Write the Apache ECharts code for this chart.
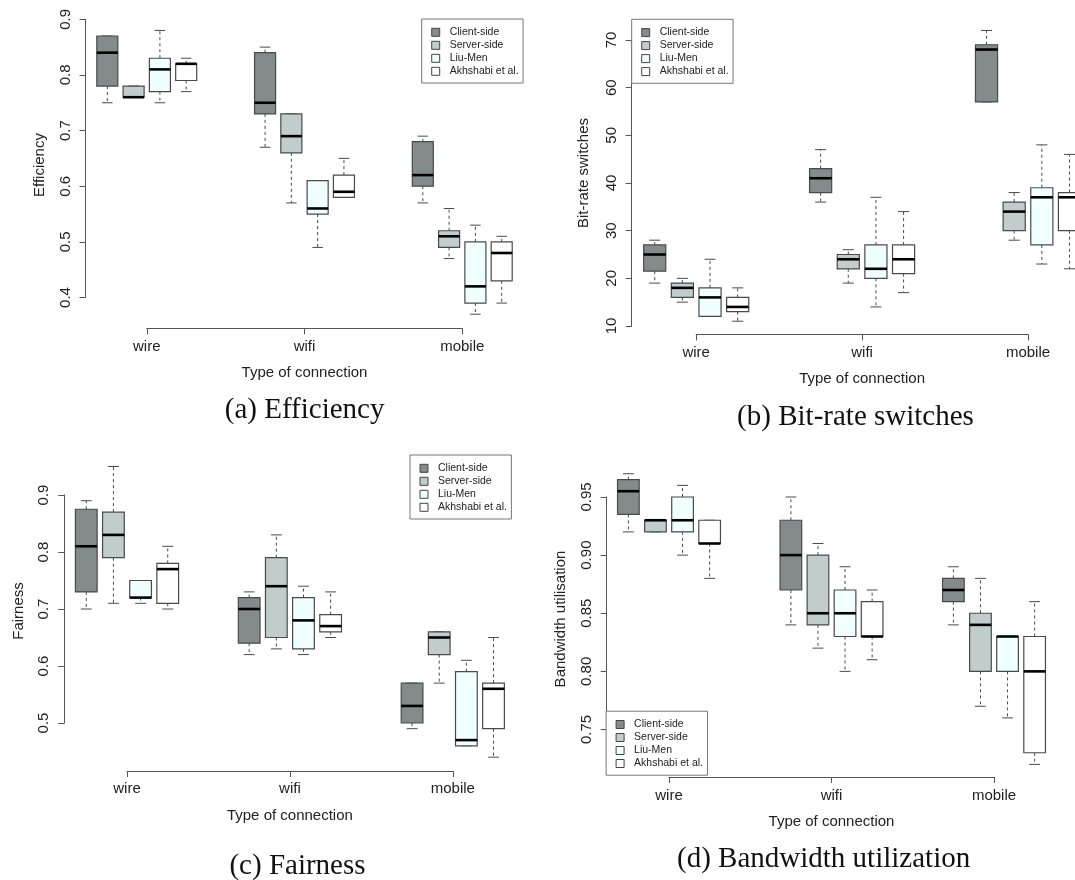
<!DOCTYPE html>
<html><head><meta charset="utf-8">
<script src="https://cdn.jsdelivr.net/npm/echarts@6/dist/echarts.min.js"></script>
<style>html,body{margin:0;padding:0;background:#fff}#c{width:1075px;height:880px}</style>
</head><body><div id="c"></div>
<script>
// ---------- data ----------
const categories = ['wire', 'wifi', 'mobile'];
const methods = ['Client-side', 'Server-side', 'Liu-Men', 'Akhshabi et al.'];
// five-number summaries [min, Q1, median, Q3, max] for wire, wifi, mobile
const effClient   = [[0.75,0.78,0.84,0.87,0.87],[0.67,0.73,0.75,0.84,0.85],[0.57,0.60,0.62,0.68,0.69]];
const effServer   = [[0.76,0.76,0.76,0.78,0.78],[0.57,0.66,0.69,0.73,0.73],[0.47,0.49,0.51,0.52,0.56]];
const effLiuMen   = [[0.75,0.77,0.81,0.83,0.88],[0.49,0.55,0.56,0.61,0.61],[0.37,0.39,0.42,0.50,0.53]];
const effAkhshabi = [[0.77,0.79,0.82,0.82,0.83],[0.58,0.58,0.59,0.62,0.65],[0.39,0.43,0.48,0.50,0.51]];

const brsClient   = [[19,21.5,25,27,28],[36,38,41,43,47],[57,57,68,69,72]];
const brsServer   = [[15,16,18,19,20],[19,22,24,25,26],[28,30,34,36,38]];
const brsLiuMen   = [[12,12,16,18,24],[14,20,22,27,37],[23,27,37,39,48]];
const brsAkhshabi = [[11,13,14,16,18],[17,21,24,27,34],[22,30,37,38,46]];

const fairClient   = [[0.70,0.73,0.81,0.875,0.89],[0.62,0.64,0.70,0.72,0.73],[0.49,0.50,0.53,0.57,0.57]];
const fairServer   = [[0.71,0.79,0.83,0.87,0.95],[0.63,0.65,0.74,0.79,0.83],[0.57,0.62,0.65,0.66,0.66]];
const fairLiuMen   = [[0.71,0.72,0.72,0.75,0.75],[0.62,0.63,0.68,0.72,0.74],[0.46,0.46,0.47,0.59,0.61]];
const fairAkhshabi = [[0.70,0.71,0.77,0.78,0.81],[0.65,0.66,0.67,0.69,0.73],[0.44,0.49,0.56,0.57,0.65]];

const bwClient   = [[0.92,0.935,0.955,0.965,0.97],[0.84,0.87,0.90,0.93,0.95],[0.84,0.86,0.87,0.88,0.89]];
const bwServer   = [[0.92,0.92,0.93,0.93,0.93],[0.82,0.84,0.85,0.90,0.91],[0.77,0.80,0.84,0.85,0.88]];
const bwLiuMen   = [[0.90,0.92,0.93,0.95,0.96],[0.80,0.83,0.85,0.87,0.89],[0.76,0.80,0.83,0.83,0.83]];
const bwAkhshabi = [[0.88,0.91,0.91,0.93,0.93],[0.81,0.83,0.83,0.86,0.87],[0.72,0.73,0.80,0.83,0.86]];

const effTicks  = [0.4, 0.5, 0.6, 0.7, 0.8, 0.9];
const brsTicks  = [10, 20, 30, 40, 50, 60, 70];
const fairTicks = [0.5, 0.6, 0.7, 0.8, 0.9];
const bwTicks   = [0.75, 0.80, 0.85, 0.90, 0.95];

// ---------- layout / style ----------
const FONT = '"Liberation Sans", Arial, Helvetica, sans-serif';
const SERIF = '"Liberation Serif", "Times New Roman", serif';
const fills = ['#838B8B', '#C1CDCD', '#F0FFFF', '#FFFFFF'];
const axisColor = '#555';
const textColor = '#222';

const panels = [
  {data:[effClient,effServer,effLiuMen,effAkhshabi], ticks:effTicks, dec:1, yTitle:'Efficiency', caption:'(a) Efficiency',
   axisX:85.6, x0:146.75, x1:462.25, yTop:19.3, yBot:297.5, lineY:328.3, labelY:346.6, nameY:372.4,
   capX:304.6, capY:410, ytX:40, ytY:165, lgL:421.7, lgT:19},
  {data:[brsClient,brsServer,brsLiuMen,brsAkhshabi], ticks:brsTicks, dec:0, yTitle:'Bit-rate switches', caption:'(b) Bit-rate switches',
   axisX:631.7, x0:696.2, x1:1028, yTop:40, yBot:326, lineY:334.4, labelY:352.6, nameY:379,
   capX:855.5, capY:417, ytX:584, ytY:173, lgL:631.7, lgT:19.3},
  {data:[fairClient,fairServer,fairLiuMen,fairAkhshabi], ticks:fairTicks, dec:1, yTitle:'Fairness', caption:'(c) Fairness',
   axisX:64.3, x0:127, x1:452.8, yTop:495, yBot:723, lineY:771, labelY:789.3, nameY:815.9,
   capX:297.5, capY:866, ytX:18.5, ytY:611, lgL:410, lgT:455},
  {data:[bwClient,bwServer,bwLiuMen,bwAkhshabi], ticks:bwTicks, dec:2, yTitle:'Bandwidth utilisation', caption:'(d) Bandwidth utilization',
   axisX:606.7, x0:669, x1:994, yTop:497, yBot:729.5, lineY:777, labelY:795.8, nameY:822,
   capX:823.6, capY:859, ytX:561, ytY:619, lgL:606.1, lgT:711.2}
];

const grid = [], xAxis = [], yAxis = [], series = [], legend = [], graphic = [];

function renderBox(fill) {
  return function (params, api) {
    const x = api.value(0);
    const slot = api.size([1, 0])[0];
    const w = slot * 0.8;
    const pMin = api.coord([x, api.value(1)]);
    const pQ1 = api.coord([x, api.value(2)]);
    const pMed = api.coord([x, api.value(3)]);
    const pQ3 = api.coord([x, api.value(4)]);
    const pMax = api.coord([x, api.value(5)]);
    const cx = pMed[0];
    const wl = {stroke: '#4a4a4a', lineWidth: 1, lineDash: [3, 3]};
    const cl = {stroke: '#4a4a4a', lineWidth: 1};
    return {
      type: 'group',
      children: [
        {type: 'line', shape: {x1: cx, y1: pQ3[1], x2: cx, y2: pMax[1]}, style: wl},
        {type: 'line', shape: {x1: cx, y1: pQ1[1], x2: cx, y2: pMin[1]}, style: wl},
        {type: 'line', shape: {x1: cx - w / 4, y1: pMax[1], x2: cx + w / 4, y2: pMax[1]}, style: cl},
        {type: 'line', shape: {x1: cx - w / 4, y1: pMin[1], x2: cx + w / 4, y2: pMin[1]}, style: cl},
        {type: 'rect', shape: {x: cx - w / 2, y: pQ3[1], width: w, height: pQ1[1] - pQ3[1]},
         style: {fill: fill, stroke: '#4a4a4a', lineWidth: 1.2}},
        {type: 'line', shape: {x1: cx - w / 2, y1: pMed[1], x2: cx + w / 2, y2: pMed[1]},
         style: {stroke: '#000', lineWidth: 2.6}}
      ]
    };
  };
}

panels.forEach((p, i) => {
  const t = p.ticks;
  const interval = Math.round((t[1] - t[0]) * 1000) / 1000;
  grid.push({left: p.x0, top: p.yTop, width: p.x1 - p.x0, height: p.yBot - p.yTop,
             containLabel: false, outerBoundsMode: 'none'});
  xAxis.push({
    gridIndex: i, type: 'value', min: 0, max: 12, interval: 6, position: 'bottom',
    offset: p.lineY - p.yBot,
    axisLine: {show: true, onZero: false, lineStyle: {color: axisColor, width: 1}},
    axisTick: {show: true, length: 6, inside: false, lineStyle: {color: axisColor, width: 1}},
    axisLabel: {show: true, fontSize: 15, fontFamily: FONT, color: textColor,
                margin: p.labelY - p.lineY - 7.5,
                formatter: v => categories[Math.round(v / 6)]},
    splitLine: {show: false},
    name: 'Type of connection', nameLocation: 'middle', nameGap: p.nameY - p.lineY - 7.5,
    nameTextStyle: {fontSize: 15, fontFamily: FONT, color: textColor}
  });
  yAxis.push({
    gridIndex: i, type: 'value', min: t[0], max: t[t.length - 1], interval: interval,
    position: 'left', offset: p.x0 - p.axisX,
    axisLine: {show: true, onZero: false, lineStyle: {color: axisColor, width: 1}},
    axisTick: {show: true, length: 6, inside: false, lineStyle: {color: axisColor, width: 1}},
    axisLabel: {show: true, rotate: 90, fontSize: 15, fontFamily: FONT, color: textColor, margin: 12.5,
                formatter: v => v.toFixed(p.dec)},
    splitLine: {show: false}
  });
  p.data.forEach((vals, m) => {
    series.push({
      type: 'custom', name: methods[m], xAxisIndex: i, yAxisIndex: i,
      itemStyle: {color: fills[m], borderColor: '#444', borderWidth: 1},
      encode: {x: 0, y: [1, 2, 3, 4, 5]},
      clip: false,
      renderItem: renderBox(fills[m]),
      data: vals.map((s, g) => [g * 6 + m - 1.5].concat(s))
    });
  });
  legend.push({
    orient: 'vertical', left: p.lgL, top: p.lgT, itemWidth: 8, itemHeight: 8, itemGap: 0,
    icon: 'rect', selectedMode: false,
    padding: [6.8, 4.5, 5.2, 9.5], borderColor: '#777', borderWidth: 1, backgroundColor: '#fff',
    textStyle: {fontSize: 10.5, fontFamily: FONT, color: textColor, lineHeight: 13, padding: [0, 0, 0, 5]},
    data: methods.map((name, m) => ({name: name, itemStyle: {color: fills[m], borderColor: '#444', borderWidth: 1}}))
  });
  graphic.push({
    type: 'text', x: p.ytX, y: p.ytY, rotation: Math.PI / 2,
    style: {text: p.yTitle, font: '15px ' + FONT, fill: textColor,
            align: 'center', verticalAlign: 'middle', textAlign: 'center', textVerticalAlign: 'middle'}
  });
  graphic.push({
    type: 'text', x: p.capX, y: p.capY,
    style: {text: p.caption, font: '29px ' + SERIF, fill: '#111',
            align: 'center', verticalAlign: 'middle', textAlign: 'center', textVerticalAlign: 'middle'}
  });
});

const chart = echarts.init(document.getElementById('c'), null, {renderer: 'canvas'});
chart.setOption({
  animation: false,
  backgroundColor: '#fff',
  grid: grid, xAxis: xAxis, yAxis: yAxis, series: series, legend: legend,
  graphic: {elements: graphic}
});
</script>
</body></html>
